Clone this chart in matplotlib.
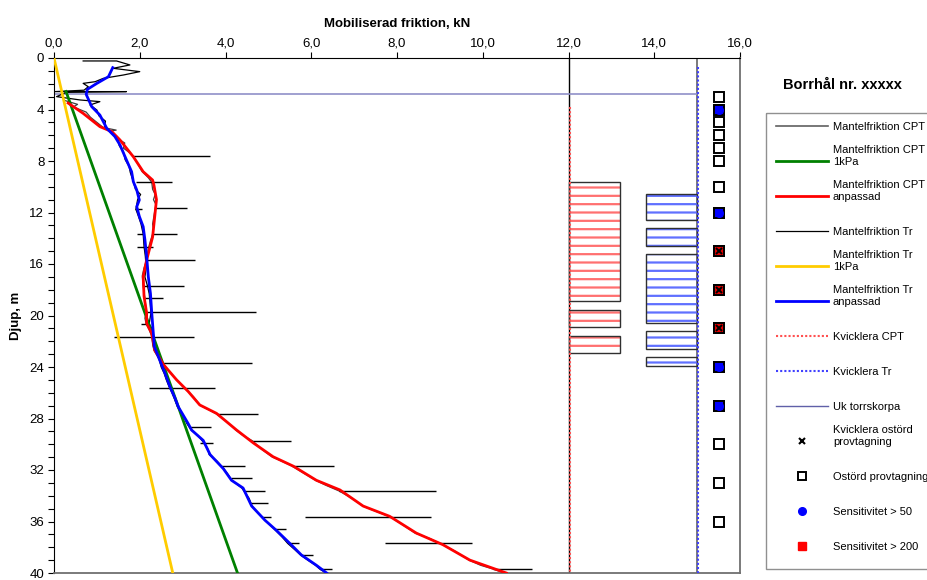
import matplotlib
matplotlib.use('Agg')
import matplotlib.pyplot as plt
from matplotlib.ticker import MultipleLocator, FuncFormatter
from matplotlib.patches import Rectangle

plt.rcParams['font.family'] = ['Liberation Sans', 'DejaVu Sans']
plt.rcParams['hatch.linewidth'] = 1.6

# Mantelfriktion CPT anpassad (röd)
cpt_adj_depth = [3.5, 4.3, 5.33, 5.72, 6.37, 7.67, 8.83, 9.48, 9.86, 11.0, 12.3, 13.9, 15.7, 17.0,
                 18.5, 19.8, 20.6, 21.4, 22.7, 23.8, 25.0, 25.9, 26.95, 27.6, 28.9, 29.9, 30.97,
                 31.7, 32.8, 33.55, 34.8, 35.6, 36.9, 37.8, 39.0, 40.0]
cpt_adj_value = [0.33, 0.68, 1.07, 1.35, 1.54, 1.85, 2.08, 2.30, 2.33, 2.39, 2.35, 2.30, 2.16, 2.08,
                 2.10, 2.16, 2.16, 2.28, 2.35, 2.55, 2.86, 3.13, 3.40, 3.79, 4.26, 4.65, 5.11,
                 5.58, 6.12, 6.67, 7.21, 7.83, 8.45, 9.07, 9.70, 10.55]

# Mantelfriktion Tr anpassad (blå)
tr_adj_depth = [0.75, 1.45, 1.97, 2.43, 2.82, 3.78, 4.43, 5.2, 5.46, 6.1, 6.76, 7.92, 8.83, 9.6,
                10.25, 11.03, 11.55, 12.3, 13.1, 14.1, 15.4, 17.0, 18.3, 19.8, 21.1, 22.4, 23.5,
                24.5, 25.5, 26.4, 27.1, 28.4, 28.9, 29.7, 30.8, 31.9, 32.8, 33.4, 34.8, 35.9,
                36.7, 37.7, 38.6, 39.4, 40.0]
tr_adj_value = [1.37, 1.27, 1.00, 0.78, 0.75, 0.88, 1.07, 1.19, 1.23, 1.42, 1.54, 1.69, 1.81, 1.85,
                1.93, 1.99, 1.93, 1.99, 2.08, 2.12, 2.16, 2.20, 2.25, 2.28, 2.31, 2.34, 2.47,
                2.59, 2.70, 2.82, 2.90, 3.13, 3.21, 3.48, 3.64, 3.95, 4.14, 4.41, 4.61, 4.92,
                5.19, 5.50, 5.77, 6.12, 6.36]

# 1kPa-linjer
cpt_1kpa_depth = [2.6, 40.0]
cpt_1kpa_value = [0.28, 4.28]
tr_1kpa_depth = [0.0, 40.0]
tr_1kpa_value = [0.0, 2.77]

# Mantelfriktion CPT (rådata)
cpt_raw_depth = [3.3, 3.6, 3.8, 4.2, 4.6, 5.0, 5.4, 5.6, 5.7, 6.2, 6.6, 7.0, 7.4, 7.64, 8.2, 8.8,
                 9.3, 9.66, 10.2, 10.6, 11.0, 11.4, 11.68, 12.3, 12.9, 13.3, 13.67, 14.2, 14.8,
                 15.3, 15.69, 16.3, 16.9, 17.3, 17.7, 18.2, 18.66, 19.3, 19.7, 20.2, 20.66, 21.1,
                 21.64, 22.2, 22.7, 23.2, 23.66, 24.3, 25.0, 25.66, 26.3, 26.95, 27.3, 27.67,
                 28.3, 28.9, 29.3, 29.72, 30.4, 30.97, 31.3, 31.69, 32.3, 32.8, 33.2, 33.63,
                 34.2, 34.8, 35.2, 35.65, 36.3, 36.9, 37.3, 37.7, 38.3, 39.0, 39.4, 39.7, 40.0]
cpt_raw_value = [0.25, 0.55, 0.45, 0.75, 0.85, 1.00, 1.15, 1.45, 1.30, 1.45, 1.65, 1.62, 1.78, 1.85,
                 1.95, 2.05, 2.20, 2.28, 2.30, 2.36, 2.32, 2.38, 2.36, 2.33, 2.30, 2.32, 2.30,
                 2.25, 2.20, 2.18, 2.16, 2.10, 2.06, 2.07, 2.08, 2.10, 2.12, 2.14, 2.16, 2.12,
                 2.15, 2.22, 2.28, 2.30, 2.33, 2.42, 2.52, 2.68, 2.86, 3.05, 3.25, 3.40, 3.60,
                 3.80, 4.05, 4.24, 4.40, 4.62, 4.85, 5.08, 5.30, 5.55, 5.85, 6.10, 6.35, 6.65,
                 6.95, 7.20, 7.50, 7.85, 8.15, 8.42, 8.75, 9.00, 9.35, 9.68, 9.95, 10.25, 10.50]
cpt_spike_depth = [7.64, 9.66, 11.68, 13.67, 15.69, 17.7, 18.66, 19.7, 21.64, 23.66, 25.66,
                   27.67, 29.72, 31.69, 33.63, 35.65, 37.7, 39.7]
cpt_spike_from = [1.85, 1.91, 2.36, 2.30, 2.16, 2.08, 2.12, 2.16, 1.40, 2.52, 2.22,
                  3.80, 4.62, 5.55, 6.65, 5.85, 7.72, 10.25]
cpt_spike_to = [3.65, 2.76, 3.11, 2.87, 3.29, 3.03, 2.55, 4.72, 3.26, 4.61, 3.75,
                4.75, 5.52, 6.53, 8.92, 8.79, 9.76, 11.16]

# Mantelfriktion Tr (rådata)
tr_raw_depth = [0.23, 0.23, 0.54, 0.80, 1.06, 1.32, 1.58, 1.84, 1.97, 2.23, 2.50, 2.61, 2.61, 2.65,
                3.00, 3.26, 3.39, 3.65, 4.04, 4.5, 4.9, 5.3, 5.8, 6.3, 6.8, 7.3, 7.9, 8.4, 8.9,
                9.4, 9.7, 10.2, 10.6, 11.0, 11.75, 12.3, 12.9, 13.67, 14.65, 15.4, 16.3, 17.0,
                17.7, 18.3, 19.0, 19.8, 20.66, 21.1, 21.6, 22.4, 23.0, 23.5, 24.0, 24.5, 25.0,
                25.5, 26.0, 26.4, 27.1, 27.67, 28.4, 28.9, 29.3, 29.7, 30.3, 30.8, 31.3, 31.9,
                32.3, 32.8, 33.4, 34.2, 34.8, 35.3, 35.9, 36.3, 37.2, 37.7, 38.2, 38.6, 39.0,
                39.4, 39.7, 40.0]
tr_raw_value = [0.68, 1.46, 1.77, 1.38, 2.00, 1.62, 1.15, 0.96, 0.68, 0.80, 0.70, 0.02, 1.69, 0.30,
                0.06, 0.61, 1.07, 0.84, 1.00, 1.05, 1.20, 1.18, 1.35, 1.50, 1.52, 1.62, 1.66,
                1.75, 1.78, 1.83, 1.86, 1.90, 2.02, 1.95, 1.91, 1.97, 2.03, 2.08, 2.10, 2.13,
                2.15, 2.12, 2.18, 2.22, 2.24, 2.26, 2.22, 2.30, 2.30, 2.32, 2.40, 2.46, 2.50,
                2.57, 2.62, 2.68, 2.75, 2.80, 2.88, 3.00, 3.10, 3.20, 3.35, 3.45, 3.58, 3.62,
                3.80, 3.96, 4.05, 4.15, 4.38, 4.55, 4.62, 4.75, 4.92, 5.05, 5.32, 5.45, 5.62,
                5.75, 5.92, 6.10, 6.20, 6.35]
tr_spike_depth = [11.75, 13.67, 14.65, 20.66, 28.63, 29.9, 31.69, 32.6, 33.63, 34.59, 35.65,
                  36.6, 37.7, 38.6, 39.7]
tr_spike_from = [1.89, 1.93, 1.93, 2.04, 3.18, 3.40, 3.90, 4.12, 4.45, 4.60, 4.85,
                 5.15, 5.45, 5.75, 6.20]
tr_spike_to = [2.05, 2.08, 2.31, 2.22, 3.66, 3.70, 4.45, 4.62, 4.93, 4.98, 5.07,
               5.42, 5.71, 6.04, 6.49]

# Kvicklera-intervall
kv_cpt_x = 12.0
kv_cpt_start = 3.8
kv_cpt_width = 1.2
kv_cpt_top = [9.6, 19.6, 21.6]
kv_cpt_bottom = [18.9, 20.9, 22.9]
kv_tr_x = 15.0
kv_tr_start = 0.7
kv_tr_width = 1.2
kv_tr_top = [10.6, 13.2, 15.2, 21.2, 23.2]
kv_tr_bottom = [12.6, 14.6, 20.6, 22.6, 23.9]

uk_torrskorpa = 2.8

# Provtagning
prov_x = 15.5
ostord_depth = [3, 4, 5, 6, 7, 8, 10, 12, 15, 18, 21, 24, 27, 30, 33, 36]
sens50_depth = [4, 12, 24, 27]
sens200_depth = [15, 18, 21]
kv_ostord_depth = [15, 18, 21]

fig = plt.figure(figsize=(9.27, 5.8), dpi=100)
ax = fig.add_axes([54 / 927, 7 / 580, 686 / 927, 515 / 580])

# vertikala referenslinjer
ax.axvline(12.0, color='black', lw=1.0, zorder=1)
ax.axvline(15.0, color='#707070', lw=1.3, zorder=1)
ax.hlines(uk_torrskorpa, 0, 15.0, color='#9090c8', lw=1.2, zorder=2)

# kvicklera CPT
ax.vlines(kv_cpt_x + 0.03, kv_cpt_start, 40, color='#ff5050', lw=1.5, linestyles=(0, (1, 1)), zorder=3)
h_cpt = [b - t for t, b in zip(kv_cpt_top, kv_cpt_bottom)]
ax.barh(kv_cpt_top, kv_cpt_width, height=h_cpt, left=kv_cpt_x, align='edge',
        fill=False, edgecolor='#ff7070', lw=0, hatch='--', zorder=2)
ax.barh(kv_cpt_top, kv_cpt_width, height=h_cpt, left=kv_cpt_x, align='edge',
        fill=False, edgecolor='#303030', lw=1.0, zorder=2)

# kvicklera Tr
ax.vlines(kv_tr_x + 0.03, kv_tr_start, 40, color='#4040ff', lw=1.5, linestyles=(0, (1, 1)), zorder=3)
h_tr = [b - t for t, b in zip(kv_tr_top, kv_tr_bottom)]
ax.barh(kv_tr_top, -kv_tr_width, height=h_tr, left=kv_tr_x, align='edge',
        fill=False, edgecolor='#6070ff', lw=0, hatch='--', zorder=2)
ax.barh(kv_tr_top, -kv_tr_width, height=h_tr, left=kv_tr_x, align='edge',
        fill=False, edgecolor='#303030', lw=1.0, zorder=2)

# rådata
ax.plot(cpt_raw_value, cpt_raw_depth, color='#404040', lw=0.9, zorder=4)
ax.hlines(cpt_spike_depth, cpt_spike_from, cpt_spike_to, color='black', lw=1.0, zorder=4)
ax.plot(tr_raw_value, tr_raw_depth, color='black', lw=0.9, zorder=4)
ax.hlines(tr_spike_depth, tr_spike_from, tr_spike_to, color='black', lw=1.0, zorder=4)

# 1kPa och anpassade
ax.plot(tr_1kpa_value, tr_1kpa_depth, color='#ffcc00', lw=2.0, zorder=5)
ax.plot(cpt_1kpa_value, cpt_1kpa_depth, color='#008000', lw=2.0, zorder=5)
ax.plot(cpt_adj_value, cpt_adj_depth, color='#ff0000', lw=2.0, zorder=6)
ax.plot(tr_adj_value, tr_adj_depth, color='#0000ff', lw=2.0, zorder=7)

# provtagning
ax.plot([prov_x] * len(ostord_depth), ostord_depth, 's', ms=6.5, mfc='white', mec='black', mew=1.4, zorder=8)
ax.plot([prov_x] * len(sens50_depth), sens50_depth, 's', ms=6.5, mfc='#0000ff', mec='black', mew=1.4, zorder=8)
ax.plot([prov_x] * len(sens50_depth), sens50_depth, 'o', ms=5.5, mfc='#0000ff', mec='#0000ff', zorder=9)
ax.plot([prov_x] * len(sens200_depth), sens200_depth, 's', ms=6.5, mfc='#e00000', mec='black', mew=1.4, zorder=8)
ax.plot([prov_x] * len(kv_ostord_depth), kv_ostord_depth, 'x', ms=4, mec='black', mew=1.4, zorder=9)

ax.set_xlim(0, 16)
ax.set_ylim(40, 0)
ax.xaxis.tick_top()
ax.xaxis.set_label_position('top')
ax.xaxis.set_major_locator(MultipleLocator(2))
ax.xaxis.set_major_formatter(FuncFormatter(lambda v, p: f'{v:.1f}'.replace('.', ',')))
ax.yaxis.set_major_locator(MultipleLocator(4))
ax.yaxis.set_minor_locator(MultipleLocator(1))
ax.tick_params(axis='x', which='major', length=4, width=0.8, pad=2, labelsize=9.5)
ax.tick_params(axis='y', which='both', length=4, width=0.8, pad=3, labelsize=9.5)
ax.set_xlabel('Mobiliserad friktion, kN', fontsize=9.5, fontweight='bold', labelpad=8)
ax.set_ylabel('Djup, m', fontsize=9.5, fontweight='bold', labelpad=5)
ax.spines['top'].set_color('black')
ax.spines['left'].set_color('black')
ax.spines['right'].set_color('#707070')
ax.spines['right'].set_linewidth(1.3)
ax.spines['bottom'].set_color('#707070')
ax.spines['bottom'].set_linewidth(1.3)

# legend, ritad i pixelkoordinater
lax = fig.add_axes([0, 0, 1, 1])
lax.set_xlim(0, 927)
lax.set_ylim(580, 0)
lax.axis('off')
lax.text(842, 85, 'Borrhål nr. xxxxx', fontsize=10.5, fontweight='bold', ha='center', va='center')
lax.add_patch(Rectangle((766, 113), 200, 456, fill=False, edgecolor='#909090', lw=1.0))

entries = [
    ('Mantelfriktion CPT', dict(color='#606060', lw=1.2)),
    ('Mantelfriktion CPT\n1kPa', dict(color='#008000', lw=2.0)),
    ('Mantelfriktion CPT\nanpassad', dict(color='#ff0000', lw=2.0)),
    ('Mantelfriktion Tr', dict(color='black', lw=0.9)),
    ('Mantelfriktion Tr\n1kPa', dict(color='#ffcc00', lw=2.0)),
    ('Mantelfriktion Tr\nanpassad', dict(color='#0000ff', lw=2.0)),
    ('Kvicklera CPT', dict(color='#ff5050', lw=1.5, ls=(0, (1, 1)))),
    ('Kvicklera Tr', dict(color='#4040ff', lw=1.5, ls=(0, (1, 1)))),
    ('Uk torrskorpa', dict(color='#6060a8', lw=1.0)),
    ('Kvicklera ostörd\nprovtagning', dict(marker='x', ms=4, mec='black', mew=1.5, ls='none')),
    ('Ostörd provtagning', dict(marker='s', ms=5.5, mfc='white', mec='black', mew=1.4, ls='none')),
    ('Sensitivitet > 50', dict(marker='o', ms=5.5, mfc='#0000ff', mec='#0000ff', ls='none')),
    ('Sensitivitet > 200', dict(marker='s', ms=6, mfc='#ff0000', mec='#ff0000', ls='none')),
]
for i, (label, style) in enumerate(entries):
    y = 126 + 35 * i
    if 'marker' in style:
        lax.plot([802], [y], **style)
    else:
        lax.plot([776, 828], [y, y], **style)
    lax.text(833, y + 4, label, fontsize=8, ha='left', va='baseline', linespacing=1.2)

fig.savefig('out.png', dpi=100)
